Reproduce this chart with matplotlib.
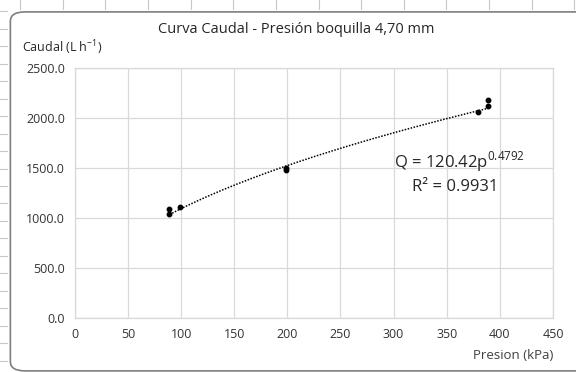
import matplotlib
matplotlib.use("Agg")
import numpy as np
import matplotlib.pyplot as plt
from matplotlib.patches import FancyBboxPatch

# data
presion = [89, 89, 99, 199, 199, 379, 389, 389]
caudal = [1090, 1037, 1107, 1480, 1500, 2057, 2120, 2180]

# reported power trendline Q = a * p^b
coef_a = 120.42
coef_b = 0.4792
r2 = 0.9931

x_ticks = [0, 50, 100, 150, 200, 250, 300, 350, 400, 450]
y_ticks = [0, 500, 1000, 1500, 2000, 2500]

plt.rcParams['font.family'] = ['Open Sans', 'DejaVu Sans']
plt.rcParams['mathtext.fontset'] = 'custom'
plt.rcParams['mathtext.rm'] = 'Open Sans'

fig = plt.figure(figsize=(5.76, 3.72), dpi=100)
fig.patch.set_facecolor('white')

# faint spreadsheet cell lines behind the chart
for yy in np.arange(0.97, 0.0, -0.047):
    fig.add_artist(plt.Line2D([0, 0.012], [yy, yy], color='#c8c8c8', lw=0.8, zorder=-2))
for xx in np.arange(0.035, 1.0, 0.074):
    fig.add_artist(plt.Line2D([xx, xx], [0.975, 1.0], color='#c8c8c8', lw=0.8, zorder=-2))

# chart area border
box = FancyBboxPatch((0.018, 0.003), 1.05, 0.965, transform=fig.transFigure,
                     boxstyle="round,pad=0,rounding_size=0.025",
                     facecolor='white', edgecolor='#7f7f7f', lw=1.2, zorder=-1)
fig.add_artist(box)

ax = fig.add_axes([0.130, 0.145, 0.830, 0.672])
ax.set_zorder(1)
ax.patch.set_alpha(0)
ax.set_xlim(0, 450)
ax.set_ylim(0, 2500)
ax.set_xticks(x_ticks)
ax.set_yticks(y_ticks)
ax.set_yticklabels([f"{v:.1f}" for v in y_ticks])
ax.grid(True, color='#d9d9d9', lw=0.9)
ax.set_axisbelow(True)
for s in ax.spines.values():
    s.set_color('#d9d9d9')
    s.set_linewidth(0.9)
ax.tick_params(length=0, labelsize=9, colors='#333333', pad=7)

# trendline
pp = np.linspace(min(presion), max(presion), 200)
ax.plot(pp, coef_a * pp ** coef_b, color='black', lw=1.1, linestyle=(0, (1, 1)))
ax.plot(presion, caudal, 'o', color='black', ms=3.2)

ax.text(362, 1560, r"Q = 120.42p$^{\mathregular{0.4792}}$", fontsize=12,
        ha='center', va='center', color='#262626')
ax.text(358, 1310, f"R² = {r2}", fontsize=12, ha='center', va='center',
        color='#262626')

fig.text(0.515, 0.922, "Curva Caudal - Presión boquilla 4,70 mm", fontsize=10.5,
         ha='center', va='center', color='#262626', zorder=2)
fig.text(0.038, 0.873, r"Caudal (L h$^{\mathregular{-1}}$)", fontsize=9,
         ha='left', va='center', color='#262626', zorder=2)
fig.text(0.891, 0.045, "Presion (kPa)", fontsize=9.5, ha='center', va='center',
         color='#404040', zorder=2)

fig.savefig("out.png", dpi=100)
